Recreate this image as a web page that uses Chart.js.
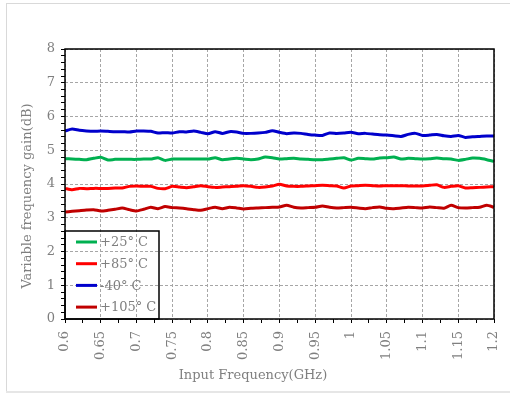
<!DOCTYPE html>
<html>
<head>
<meta charset="utf-8">
<script src="https://cdn.jsdelivr.net/npm/chart.js@4/dist/chart.umd.min.js"></script>
<style>
  html, body { margin: 0; padding: 0; background: #fff; }
  #wrap { position: relative; width: 510px; height: 393px; }
</style>
</head>
<body>
<div id="wrap"><canvas id="c" width="510" height="393"></canvas></div>
<script>
// Input frequency points (GHz)
const freqs = [
  0.60, 0.61, 0.62, 0.63, 0.64, 0.65, 0.66, 0.67, 0.68, 0.69,
  0.70, 0.71, 0.72, 0.73, 0.74, 0.75, 0.76, 0.77, 0.78, 0.79,
  0.80, 0.81, 0.82, 0.83, 0.84, 0.85, 0.86, 0.87, 0.88, 0.89,
  0.90, 0.91, 0.92, 0.93, 0.94, 0.95, 0.96, 0.97, 0.98, 0.99,
  1.00, 1.01, 1.02, 1.03, 1.04, 1.05, 1.06, 1.07, 1.08, 1.09,
  1.10, 1.11, 1.12, 1.13, 1.14, 1.15, 1.16, 1.17, 1.18, 1.19, 1.20
];

// Variable frequency gain (dB) per temperature
const gainP25 = [
  4.75, 4.74, 4.73, 4.72, 4.76, 4.79, 4.71, 4.73, 4.73, 4.73,
  4.73, 4.74, 4.74, 4.78, 4.70, 4.74, 4.74, 4.74, 4.74, 4.74,
  4.74, 4.78, 4.72, 4.74, 4.76, 4.74, 4.72, 4.74, 4.80, 4.78,
  4.74, 4.75, 4.76, 4.74, 4.73, 4.72, 4.72, 4.74, 4.76, 4.78,
  4.71, 4.76, 4.75, 4.74, 4.77, 4.78, 4.80, 4.74, 4.76, 4.75,
  4.74, 4.75, 4.77, 4.75, 4.74, 4.70, 4.73, 4.77, 4.76, 4.72, 4.67
];
const gainP85 = [
  3.87, 3.83, 3.87, 3.86, 3.87, 3.87, 3.87, 3.88, 3.88, 3.93,
  3.94, 3.93, 3.93, 3.87, 3.86, 3.93, 3.91, 3.89, 3.92, 3.95,
  3.92, 3.90, 3.91, 3.92, 3.93, 3.95, 3.93, 3.90, 3.91, 3.94,
  3.99, 3.94, 3.93, 3.93, 3.94, 3.95, 3.96, 3.95, 3.94, 3.88,
  3.94, 3.95, 3.96, 3.95, 3.94, 3.95, 3.95, 3.95, 3.94, 3.94,
  3.94, 3.96, 3.98, 3.90, 3.93, 3.95, 3.88, 3.89, 3.90, 3.91, 3.92
];
const gainM40 = [
  5.57, 5.63, 5.59, 5.57, 5.56, 5.57, 5.56, 5.55, 5.55, 5.54,
  5.57, 5.57, 5.56, 5.51, 5.52, 5.51, 5.55, 5.54, 5.57, 5.53,
  5.49, 5.55, 5.50, 5.55, 5.54, 5.50, 5.50, 5.51, 5.53, 5.58,
  5.53, 5.49, 5.51, 5.50, 5.47, 5.45, 5.44, 5.51, 5.50, 5.51,
  5.53, 5.49, 5.50, 5.48, 5.46, 5.45, 5.43, 5.41, 5.47, 5.50,
  5.44, 5.45, 5.47, 5.43, 5.41, 5.44, 5.38, 5.40, 5.41, 5.42, 5.42
];
const gainP105 = [
  3.17, 3.19, 3.21, 3.23, 3.24, 3.20, 3.22, 3.25, 3.29, 3.24,
  3.20, 3.25, 3.31, 3.27, 3.33, 3.30, 3.29, 3.27, 3.24, 3.22,
  3.27, 3.31, 3.27, 3.31, 3.29, 3.26, 3.28, 3.29, 3.30, 3.31,
  3.32, 3.37, 3.31, 3.29, 3.30, 3.31, 3.35, 3.31, 3.29, 3.30,
  3.31, 3.29, 3.27, 3.30, 3.32, 3.28, 3.27, 3.29, 3.31, 3.30,
  3.29, 3.32, 3.30, 3.28, 3.37, 3.30, 3.29, 3.30, 3.31, 3.37, 3.31
];

const seriesLabels = ['+25° C', '+85° C', '-40° C', '+105° C'];
const seriesColors = ['#00b050', '#ff0000', '#0000cc', '#c00000'];

// Axis tick labels
const xTickValues = [0.6, 0.65, 0.7, 0.75, 0.8, 0.85, 0.9, 0.95, 1, 1.05, 1.1, 1.15, 1.2];
const xTickLabels = ['0.6', '0.65', '0.7', '0.75', '0.8', '0.85', '0.9', '0.95', '1', '1.05', '1.1', '1.15', '1.2'];
const yTickValues = [0, 1, 2, 3, 4, 5, 6, 7, 8];
const yTickLabels = ['0', '1', '2', '3', '4', '5', '6', '7', '8'];

const xTitle = 'Input Frequency(GHz)';
const yTitle = 'Variable frequency gain(dB)';

const FONT = '"DejaVu Serif", "Liberation Serif", serif';
const TEXT_GRAY = '#7f7f7f';

function findMajor(values, v) {
  for (let i = 0; i < values.length; i++) {
    if (Math.abs(values[i] - v) < 1e-6) return i;
  }
  return -1;
}

const allSeries = [gainP25, gainP85, gainM40, gainP105];
const datasets = allSeries.map((vals, k) => ({
  label: seriesLabels[k],
  data: freqs.map((f, i) => ({ x: f, y: vals[i] })),
  borderColor: seriesColors[k],
  backgroundColor: seriesColors[k],
  borderWidth: 3,
  pointRadius: 0,
  tension: 0.2,
  fill: false
}));

// Outer frame, plot border, axis titles and the in-plot legend
const decorations = {
  id: 'decorations',
  beforeDraw(chart) {
    const ctx = chart.ctx;
    ctx.save();
    ctx.fillStyle = '#ffffff';
    ctx.fillRect(0, 0, chart.width, chart.height);
    ctx.strokeStyle = '#d9d9d9';
    ctx.lineWidth = 1;
    ctx.strokeRect(6.5, 3.5, chart.width - 6, chart.height - 5);
    ctx.fillStyle = '#e6e6e6';
    ctx.fillRect(6, chart.height - 2, chart.width - 6, 2);
    ctx.restore();
  },
  afterDraw(chart) {
    const ctx = chart.ctx;
    const a = chart.chartArea;
    ctx.save();
    // plot border
    ctx.strokeStyle = '#000';
    ctx.lineWidth = 1.5;
    ctx.strokeRect(a.left, a.top, a.right - a.left, a.bottom - a.top);

    // axis titles
    ctx.fillStyle = TEXT_GRAY;
    ctx.font = '13px ' + FONT;
    ctx.textAlign = 'center';
    ctx.textBaseline = 'middle';
    ctx.fillText(xTitle, 253, 376);
    ctx.save();
    ctx.translate(28, 196);
    ctx.rotate(-Math.PI / 2);
    ctx.fillText(yTitle, 0, 0);
    ctx.restore();

    // legend box at the lower-left corner of the plot
    const bx = a.left, bw = 94, bh = 88;
    const by = a.bottom - bh;
    ctx.strokeStyle = '#000';
    ctx.lineWidth = 1.5;
    ctx.strokeRect(bx, by, bw, bh);
    ctx.textAlign = 'left';
    ctx.font = '13px ' + FONT;
    chart.data.datasets.forEach((ds, i) => {
      const ry = by + 11 + i * 21.7;
      ctx.strokeStyle = ds.borderColor;
      ctx.lineWidth = 3;
      ctx.beginPath();
      ctx.moveTo(bx + 11, ry);
      ctx.lineTo(bx + 32, ry);
      ctx.stroke();
      ctx.fillStyle = TEXT_GRAY;
      ctx.fillText(ds.label, bx + 35, ry + 1);
    });
    ctx.restore();
  }
};

new Chart(document.getElementById('c'), {
  type: 'line',
  data: { datasets },
  options: {
    responsive: false,
    animation: false,
    events: [],
    layout: { padding: { left: 0, top: 49, right: 16, bottom: 0 } },
    plugins: { legend: { display: false }, tooltip: { enabled: false } },
    scales: {
      x: {
        type: 'linear',
        min: 0.6,
        max: 1.2,
        afterFit(scale) {
          scale.height = 74;
          scale.paddingLeft = 0;
          scale.paddingRight = 0;
        },
        ticks: {
          stepSize: 0.025,
          autoSkip: false,
          minRotation: 90,
          maxRotation: 90,
          padding: 8,
          color: TEXT_GRAY,
          font: { family: FONT, size: 13 },
          callback(v) {
            const k = findMajor(xTickValues, v);
            return k >= 0 ? xTickLabels[k] : '';
          }
        },
        grid: {
          color(c) {
            return c.tick && findMajor(xTickValues, c.tick.value) >= 0 ? '#a6a6a6' : 'rgba(0,0,0,0)';
          },
          lineWidth: 1,
          tickColor: '#000',
          tickLength: 4,
          tickWidth: 1
        },
        border: { display: false, dash: [3, 2] }
      },
      y: {
        type: 'linear',
        min: 0,
        max: 8,
        afterFit(scale) {
          scale.width = 65;
          scale.paddingTop = 0;
          scale.paddingBottom = 0;
        },
        ticks: {
          stepSize: 0.2,
          autoSkip: false,
          padding: 6,
          color: TEXT_GRAY,
          font: { family: FONT, size: 13 },
          callback(v) {
            const k = findMajor(yTickValues, v);
            return k >= 0 ? yTickLabels[k] : '';
          }
        },
        grid: {
          color(c) {
            return c.tick && findMajor(yTickValues, c.tick.value) >= 0 ? '#a6a6a6' : 'rgba(0,0,0,0)';
          },
          lineWidth: 1,
          tickColor: '#000',
          tickLength: 4,
          tickWidth: 1
        },
        border: { display: false, dash: [3, 2] }
      }
    }
  },
  plugins: [decorations]
});
</script>
</body>
</html>
